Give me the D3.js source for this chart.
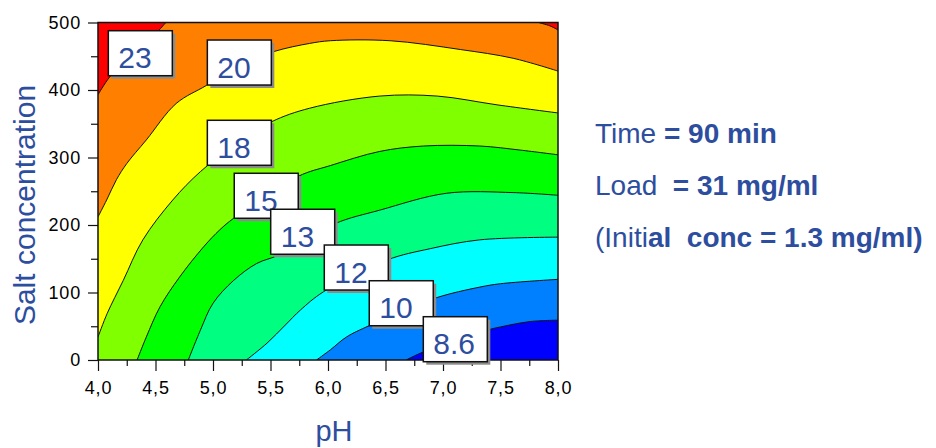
<!DOCTYPE html>
<html>
<head>
<meta charset="utf-8">
<script src="https://cdn.jsdelivr.net/npm/d3@7"></script>
<style>
  body { margin: 0; background: #fff; }
  text { font-family: "Liberation Sans", Arial, sans-serif; }
</style>
</head>
<body>
<div id="chart"></div>
<script>
var svgWidth = 936;
var svgHeight = 448;

var leftMargin = 98;
var rightEdge = 558;
var topMargin = 22.5;
var bottomEdge = 360;

// contour levels, low to high, and the fill for each band
var levels = [8.6, 10, 12, 13, 15, 18, 20, 23];
var bandColors = ['#0000FF', '#0080FF', '#00FFFF', '#00FF80', '#00FF00', '#80FF00', '#FFFF00', '#FF8000', '#FF0000'];

// contour lines, [pH, salt]
var line86 = [[6.68, 0], [6.83, 12], [7.38, 44], [7.50, 49], [7.76, 57], [8, 59]];
var line10 = [[5.90, 0], [6.02, 15], [6.16, 34], [6.36, 51], [6.92, 91], [7.32, 108], [7.50, 113], [8, 119.5]];
var line12 = [[5.29, 0], [5.47, 25], [5.63, 52], [5.76, 74], [5.96, 101], [6.51, 148], [6.89, 165], [7.32, 178], [8, 182]];
var line13 = [[4.785, 0], [4.89, 44], [5.0, 84], [5.18, 118], [5.38, 143], [5.58, 156], [6.06, 202], [6.45, 222], [7.03, 247], [7.61, 248], [8, 244]];
var line15 = [[4.34, 0], [4.42, 34], [4.54, 79], [4.71, 123], [4.92, 168], [5.06, 193], [5.18, 210], [5.74, 272], [6.02, 288], [6.45, 309], [6.83, 317], [7.32, 317], [7.67, 311], [8, 304]];
var line18 = [[4, 34], [4.08, 69], [4.22, 118], [4.39, 178], [4.65, 237], [4.89, 279], [5.2, 320], [5.51, 353], [5.84, 373], [6.45, 391], [6.95, 391], [7.47, 378], [8, 366]];
var line20 = [[4, 212], [4.075, 237], [4.16, 267], [4.25, 291], [4.42, 326], [4.68, 380], [4.945, 407], [5.23, 437], [5.53, 457], [5.84, 469], [6.02, 473], [6.54, 473], [7.15, 460], [7.61, 447], [8, 428]];
var line23a = [[4, 393], [4.10, 419], [4.3, 455], [4.52, 487], [4.59, 500]];
var line23b = [[7.83, 500], [7.93, 495], [8, 489]];

var contourLevels = [8.6, 10, 12, 13, 15, 18, 20, 23, 23];
var contourLines = [line86, line10, line12, line13, line15, line18, line20, line23a, line23b];

// contour labels
var labelText = ['23', '20', '18', '15', '13', '12', '10', '8.6'];
var labelPH = [4.368, 5.229, 5.229, 5.463, 5.780, 6.246, 6.637, 7.107];
var labelSalt = [454.5, 440.7, 321.8, 243.3, 190, 137, 84.1, 30.8];

// axes
var xDomain = [4, 8];
var yDomain = [0, 500];
var xTicks = [4.0, 4.5, 5.0, 5.5, 6.0, 6.5, 7.0, 7.5, 8.0];
var xMinor = [4.25, 4.75, 5.25, 5.75, 6.25, 6.75, 7.25, 7.75];
var yTicks = [0, 100, 200, 300, 400, 500];
var yMinor = [50, 150, 250, 350, 450];

var notes = [
    ['Time ', '= 90 min'],
    ['Load  ', '= 31 mg/ml'],
    ['(Initi', 'al  conc = 1.3 mg/ml)']
];

var blue = '#2D4E9E';

var x = d3.scaleLinear().domain(xDomain).range([leftMargin, rightEdge]);
var y = d3.scaleLinear().domain(yDomain).range([bottomEdge, topMargin]);

var svg = d3.select('#chart')
    .append('svg')
    .attr('width', svgWidth)
    .attr('height', svgHeight);

svg.append('clipPath')
    .attr('id', 'plot-clip')
    .append('rect')
    .attr('x', x(xDomain[0]))
    .attr('y', y(yDomain[1]))
    .attr('width', x(xDomain[1]) - x(xDomain[0]))
    .attr('height', y(yDomain[0]) - y(yDomain[1]));

var plot = svg.append('g').attr('clip-path', 'url(#plot-clip)');

// lowest band fills the whole plot
plot.append('rect')
    .attr('x', x(xDomain[0]))
    .attr('y', y(yDomain[1]))
    .attr('width', x(xDomain[1]) - x(xDomain[0]))
    .attr('height', y(yDomain[0]) - y(yDomain[1]))
    .attr('fill', bandColors[0]);

var curve = d3.line()
    .x(d => x(d[0]))
    .y(d => y(d[1]))
    .curve(d3.curveCatmullRom.alpha(0.5));

// position of a border point going counter-clockwise from bottom-right corner
function edgeParam(p) {
    if (p[0] >= xDomain[1]) return (p[1] - yDomain[0]) / (yDomain[1] - yDomain[0]);
    if (p[1] >= yDomain[1]) return 1 + (xDomain[1] - p[0]) / (xDomain[1] - xDomain[0]);
    if (p[0] <= xDomain[0]) return 2 + (yDomain[1] - p[1]) / (yDomain[1] - yDomain[0]);
    return 3 + (p[0] - xDomain[0]) / (xDomain[1] - xDomain[0]);
}

var corners = [[xDomain[1], yDomain[1]], [xDomain[0], yDomain[1]], [xDomain[0], yDomain[0]], [xDomain[1], yDomain[0]]];

function bandPath(pts) {
    var tEnd = edgeParam(pts[pts.length - 1]);
    var tStart = edgeParam(pts[0]);
    if (tStart < tEnd) tStart += 4;
    var d = curve(pts);
    for (var k = 1; k <= 8; k++) {
        if (k > tEnd && k < tStart) {
            var c = corners[(k - 1) % 4];
            d += 'L' + x(c[0]) + ',' + y(c[1]);
        }
    }
    return d + 'Z';
}

contourLines.forEach(function(pts, i) {
    plot.append('path')
        .attr('d', bandPath(pts))
        .attr('fill', bandColors[levels.indexOf(contourLevels[i]) + 1]);
});

contourLines.forEach(function(pts) {
    plot.append('path')
        .attr('d', curve(pts))
        .attr('fill', 'none')
        .attr('stroke', '#111')
        .attr('stroke-width', 1);
});

// frame
svg.append('rect')
    .attr('x', x(xDomain[0]))
    .attr('y', y(yDomain[1]))
    .attr('width', x(xDomain[1]) - x(xDomain[0]))
    .attr('height', y(yDomain[0]) - y(yDomain[1]))
    .attr('fill', 'none')
    .attr('stroke', '#111')
    .attr('stroke-width', 1.5);

// axes
svg.append('g')
    .attr('transform', `translate(0, ${y(0)})`)
    .call(d3.axisBottom(x).tickValues(xTicks).tickSize(11).tickPadding(10)
        .tickFormat(d => d3.format('.1f')(d).replace('.', ',')));
svg.append('g')
    .attr('transform', `translate(0, ${y(0)})`)
    .call(d3.axisBottom(x).tickValues(xMinor).tickSize(6).tickFormat(''));

svg.append('g')
    .attr('transform', `translate(${x(4)}, 0)`)
    .call(d3.axisLeft(y).tickValues(yTicks).tickSize(10).tickPadding(7));
svg.append('g')
    .attr('transform', `translate(${x(4)}, 0)`)
    .call(d3.axisLeft(y).tickValues(yMinor).tickSize(7).tickFormat(''));

svg.selectAll('.domain').remove();
svg.selectAll('.tick line').attr('stroke', '#111').attr('stroke-width', 1.2);
svg.selectAll('.tick text')
    .attr('font-family', '"Liberation Sans", Arial, sans-serif')
    .attr('font-size', 18)
    .attr('letter-spacing', 0.8)
    .attr('fill', '#000');

// axis titles
svg.append('text')
    .attr('x', 334)
    .attr('y', 441)
    .attr('text-anchor', 'middle')
    .attr('font-size', 29)
    .attr('fill', blue)
    .text('pH');

svg.append('text')
    .attr('transform', 'translate(35, 205) rotate(-90)')
    .attr('text-anchor', 'middle')
    .attr('font-size', 30)
    .attr('fill', blue)
    .text('Salt concentration');

// contour labels
var boxW = 64, boxH = 45;
var labels = svg.selectAll('.clabel')
    .data(labelText)
    .enter()
    .append('g')
    .attr('class', 'clabel')
    .attr('transform', (d, i) => `translate(${x(labelPH[i]) - boxW / 2}, ${y(labelSalt[i]) - boxH / 2})`);

labels.append('rect')
    .attr('x', 3).attr('y', 3)
    .attr('width', boxW).attr('height', boxH)
    .attr('fill', '#8c8c8c');

labels.append('rect')
    .attr('width', boxW).attr('height', boxH)
    .attr('fill', '#fff')
    .attr('stroke', '#111')
    .attr('stroke-width', 1.5);

labels.append('text')
    .attr('x', 10)
    .attr('y', 37.5)
    .attr('font-size', 30)
    .attr('fill', blue)
    .text(d => d);

// notes on the right
var noteText = svg.selectAll('.note')
    .data(notes)
    .enter()
    .append('text')
    .attr('class', 'note')
    .attr('x', 595)
    .attr('y', (d, i) => 143 + 52 * i)
    .attr('font-size', 28)
    .attr('fill', blue)
    .attr('xml:space', 'preserve')
    .style('white-space', 'pre');

noteText.append('tspan').text(d => d[0]);
noteText.append('tspan').attr('font-weight', 'bold').text(d => d[1]);
</script>
</body>
</html>
